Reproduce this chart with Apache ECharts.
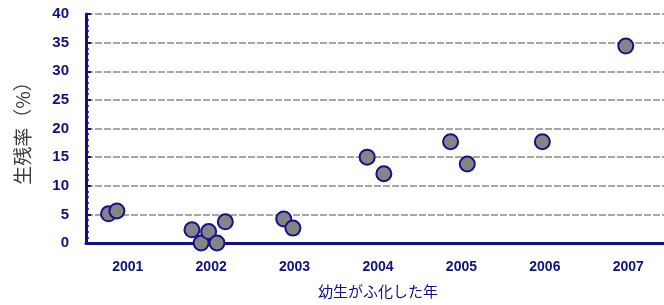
<!DOCTYPE html>
<html>
<head>
<meta charset="utf-8">
<script src="https://cdn.jsdelivr.net/npm/echarts@6/dist/echarts.min.js"></script>
<style>
  html, body { margin: 0; padding: 0; background: #fff; }
  #chart { width: 664px; height: 305px; }
</style>
</head>
<body>
<div id="chart"></div>
<script>
  // 年（カテゴリ）
  var years = ["2001", "2002", "2003", "2004", "2005", "2006", "2007"];
  // 各点の位置（カテゴリ内でずらした x）と生残率（%）
  var pointX = [0.27, 0.37, 1.27, 1.38, 1.47, 1.57, 1.67, 2.37, 2.48, 3.37, 3.57, 4.37, 4.57, 5.47, 6.47];
  var survival = [5.1, 5.6, 2.3, 0.0, 2.0, 0.0, 3.7, 4.2, 2.6, 15.0, 12.1, 17.7, 13.8, 17.7, 34.4];
  var yTicks = [0, 5, 10, 15, 20, 25, 30, 35, 40];

  var navy = "#10107f";
  var pts = pointX.map(function (x, i) { return [x, survival[i]]; });

  var chart = echarts.init(document.getElementById("chart"));
  chart.setOption({
    animation: false,
    grid: { left: 86, right: -6, top: 14, bottom: 62, outerBoundsMode: "none", containLabel: false },
    xAxis: [{
      type: "category",
      data: years,
      boundaryGap: true,
      axisLine: { lineStyle: { color: navy, width: 3 } },
      axisTick: { inside: true, length: 4, alignWithLabel: false, lineStyle: { color: navy, width: 2 } },
      axisLabel: { color: navy, fontSize: 14, fontWeight: "bold", fontFamily: "Liberation Sans", margin: 17 },
      splitLine: { show: false },
      name: "幼生がふ化した年",
      nameLocation: "middle",
      nameGap: 41,
      nameTextStyle: { color: navy, fontSize: 15, fontFamily: "Noto Sans CJK JP" }
    }, {
      type: "value",
      min: 0, max: 7,
      show: false
    }],
    yAxis: {
      type: "value",
      min: yTicks[0], max: yTicks[yTicks.length - 1], interval: 5,
      axisLine: { show: true, lineStyle: { color: navy, width: 3 } },
      axisTick: { show: true, inside: true, length: 5, lineStyle: { color: navy, width: 2 } },
      minorTick: { show: true, splitNumber: 5, length: 3, lineStyle: { color: navy, width: 1.5 } },
      axisLabel: { color: navy, fontSize: 15, fontWeight: "bold", fontFamily: "Liberation Sans", margin: 17 },
      splitLine: { lineStyle: { color: "#8a8a8a", width: 1.5, type: [7, 2] } },
      name: "生残率（%）",
      nameLocation: "middle",
      nameGap: 54,
      nameRotate: 90,
      nameTextStyle: { color: "#3a3a3a", fontSize: 19, fontFamily: "Noto Sans CJK JP" }
    },
    series: [{
      type: "scatter",
      xAxisIndex: 1,
      data: pts,
      symbol: "circle",
      symbolSize: 15,
      itemStyle: { color: "#858585", borderColor: "#13138a", borderWidth: 2, opacity: 1 }
    }]
  });
</script>
</body>
</html>
